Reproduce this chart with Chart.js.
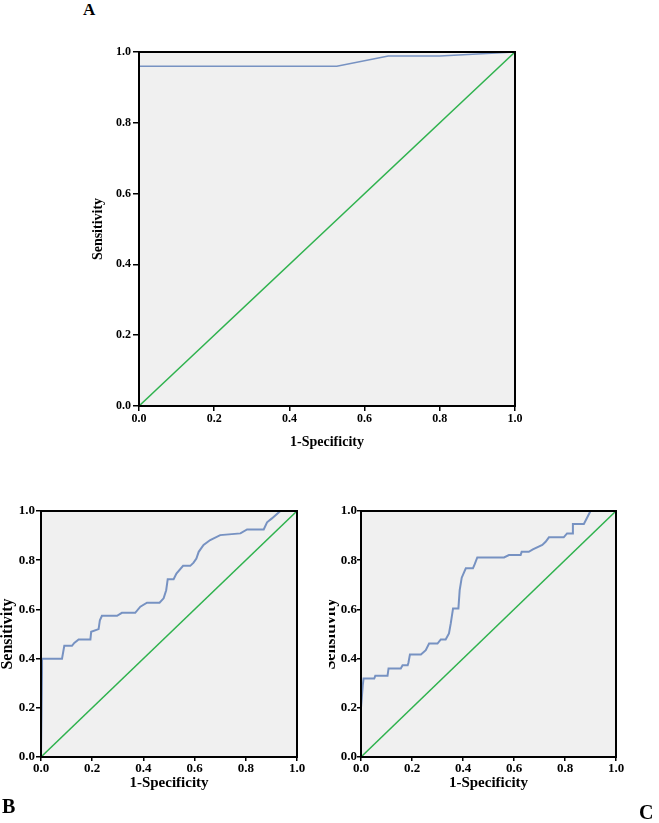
<!DOCTYPE html>
<html>
<head>
<meta charset="utf-8">
<script src="https://cdn.jsdelivr.net/npm/chart.js@4"></script>
<style>
  body { margin: 0; background: #fff; }
  #wrap { position: relative; width: 659px; height: 823px; overflow: hidden; }
  canvas { position: absolute; }
  .panel { position: absolute; font-family: "Liberation Serif", serif; font-weight: bold; color: #000; line-height: 1; }
</style>
</head>
<body>
<div id="wrap">
  <div class="panel" style="left:83px; top:1px; font-size:17px;">A</div>
  <canvas id="chartA" width="659" height="460" style="left:0; top:0;"></canvas>
  <canvas id="chartB" width="329" height="353" style="left:0; top:470px;"></canvas>
  <canvas id="chartC" width="330" height="353" style="left:329px; top:470px;"></canvas>
  <div class="panel" style="left:2px; top:796px; font-size:20px;">B</div>
  <div class="panel" style="left:639px; top:802px; font-size:20px;">C</div>
</div>
<script>
// valores (1-especificidade, sensibilidade)
const tickLabels = ["0.0", "0.2", "0.4", "0.6", "0.8", "1.0"];
const refX = [0, 1];
const refY = [0, 1];

const aX = [0, 0, 0.526, 0.663, 0.80, 1.0];
const aY = [0, 0.96, 0.96, 0.989, 0.989, 1.0];

const bX = [0, 0.004, 0.004, 0.082, 0.091, 0.121, 0.13, 0.147, 0.193, 0.196, 0.225, 0.23, 0.238, 0.297, 0.316, 0.368, 0.388, 0.414, 0.463, 0.479, 0.489, 0.495, 0.518, 0.529, 0.555, 0.583, 0.596, 0.607, 0.616, 0.635, 0.661, 0.70, 0.779, 0.805, 0.87, 0.883, 0.902, 0.935, 1.0];
const bY = [0, 0.353, 0.399, 0.399, 0.452, 0.452, 0.464, 0.478, 0.478, 0.509, 0.52, 0.556, 0.574, 0.574, 0.586, 0.586, 0.611, 0.627, 0.627, 0.645, 0.678, 0.723, 0.723, 0.746, 0.777, 0.777, 0.79, 0.807, 0.834, 0.862, 0.882, 0.902, 0.909, 0.925, 0.925, 0.954, 0.97, 1.0, 1.0];

const cX = [0, 0, 0.007, 0.010, 0.052, 0.056, 0.104, 0.108, 0.156, 0.163, 0.183, 0.186, 0.192, 0.235, 0.254, 0.267, 0.300, 0.313, 0.332, 0.345, 0.352, 0.361, 0.382, 0.387, 0.395, 0.411, 0.439, 0.446, 0.456, 0.561, 0.580, 0.626, 0.630, 0.658, 0.674, 0.711, 0.724, 0.737, 0.795, 0.808, 0.828, 0.831, 0.874, 0.90, 1.0];
const cY = [0, 0.2, 0.292, 0.319, 0.319, 0.330, 0.330, 0.360, 0.360, 0.373, 0.373, 0.383, 0.417, 0.417, 0.434, 0.461, 0.461, 0.478, 0.478, 0.502, 0.543, 0.604, 0.604, 0.678, 0.729, 0.767, 0.767, 0.784, 0.811, 0.811, 0.821, 0.821, 0.834, 0.834, 0.844, 0.862, 0.875, 0.893, 0.893, 0.909, 0.909, 0.947, 0.947, 1.0, 1.0];

function toPoints(xs, ys) {
  return xs.map((x, i) => ({ x: x, y: ys[i] }));
}

// fundo cinza e moldura preta da área do gráfico
const framePlugin = {
  id: "frame",
  beforeDatasetsDraw(chart) {
    const a = chart.chartArea;
    const c = chart.ctx;
    c.save();
    c.fillStyle = "#f0f0f0";
    c.fillRect(a.left, a.top, a.right - a.left, a.bottom - a.top);
    c.restore();
  },
  afterDatasetsDraw(chart) {
    const a = chart.chartArea;
    const c = chart.ctx;
    c.save();
    c.strokeStyle = "#000";
    c.lineWidth = 2;
    c.strokeRect(a.left, a.top, a.right - a.left, a.bottom - a.top);
    c.restore();
  }
};

function makeRoc(id, xs, ys, opt) {
  var ctx = document.getElementById(id).getContext("2d");
  return new Chart(ctx, {
    type: "scatter",
    data: {
      datasets: [{
        data: toPoints(xs, ys),
        showLine: true,
        borderColor: "#7792c2",
        borderWidth: opt.curveWidth,
        pointRadius: 0,
        tension: 0
      }, {
        data: toPoints(refX, refY),
        showLine: true,
        borderColor: "#2fb24e",
        borderWidth: 1.5,
        pointRadius: 0
      }]
    },
    options: {
      responsive: false,
      animation: false,
      layout: { padding: opt.padding },
      plugins: { legend: { display: false }, tooltip: { enabled: false } },
      scales: {
        x: {
          type: "linear", min: 0, max: 1,
          afterFit: (s) => { s.height = opt.xHeight; },
          grid: { display: true, drawOnChartArea: false, drawTicks: true, tickLength: opt.tickX, color: "#000", lineWidth: 1.5 },
          border: { display: false },
          ticks: {
            stepSize: 0.2, padding: opt.padX, color: "#000", maxRotation: 0,
            font: { family: "Liberation Serif", weight: "bold", size: opt.tickSize },
            callback: (v, i) => tickLabels[i]
          },
          title: {
            display: true, text: "1-Specificity", color: "#000",
            font: { family: "Liberation Serif", weight: "bold", size: opt.xTitleSize, lineHeight: 1.2 },
            padding: { top: 0, bottom: opt.xTitlePad }
          }
        },
        y: {
          type: "linear", min: 0, max: 1,
          afterFit: (s) => { s.width = opt.yWidth; },
          grid: { display: true, drawOnChartArea: false, drawTicks: true, tickLength: opt.tickY, color: "#000", lineWidth: 1.5 },
          border: { display: false },
          ticks: {
            stepSize: 0.2, padding: opt.padY, color: "#000",
            font: { family: "Liberation Serif", weight: "bold", size: opt.tickSize },
            callback: (v, i) => tickLabels[i]
          },
          title: {
            display: true, text: "Sensitivity", color: "#000",
            font: { family: "Liberation Serif", weight: "bold", size: opt.yTitleSize, lineHeight: 1.2 },
            padding: { top: opt.yTitlePad, bottom: 0 }
          }
        }
      }
    },
    plugins: [framePlugin]
  });
}

makeRoc("chartA", aX, aY, {
  padding: { left: 80, top: 52, right: 144, bottom: 0 },
  yWidth: 59, xHeight: 54, tickX: 5, tickY: 6, padX: 1, padY: 2,
  tickSize: 12, xTitleSize: 14, yTitleSize: 14, xTitlePad: 9.6, yTitlePad: 9.6,
  curveWidth: 1.5
});

makeRoc("chartB", bX, bY, {
  padding: { left: 0, top: 41, right: 32, bottom: 0 },
  yWidth: 41, xHeight: 66, tickX: 4, tickY: 5, padX: 0, padY: 1,
  tickSize: 13, xTitleSize: 15, yTitleSize: 16, xTitlePad: 31, yTitlePad: -2,
  curveWidth: 2
});

makeRoc("chartC", cX, cY, {
  padding: { left: 0, top: 41, right: 43, bottom: 0 },
  yWidth: 32, xHeight: 66, tickX: 4, tickY: 4, padX: 0, padY: 0,
  tickSize: 13, xTitleSize: 15, yTitleSize: 16, xTitlePad: 31, yTitlePad: -8,
  curveWidth: 2
});
</script>
</body>
</html>
